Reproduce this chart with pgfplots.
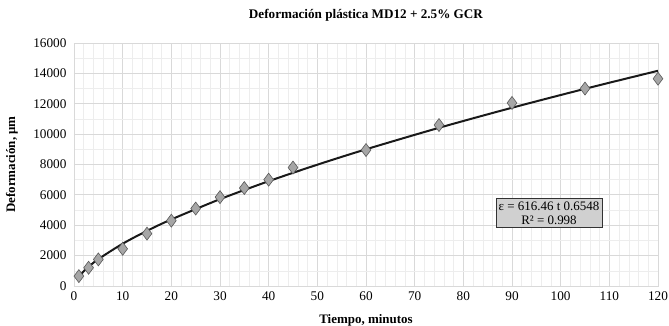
\documentclass[border=0pt]{standalone}
\usepackage{pgfplots}
\pgfplotsset{compat=1.18}
\usepackage{fontspec}
\setmainfont{Liberation Serif}
\definecolor{majgrid}{HTML}{D9D9D9}
\definecolor{mingrid}{HTML}{EDEDED}
\definecolor{mkfill}{HTML}{A6A6A6}
\definecolor{mkedge}{HTML}{595959}
\definecolor{boxfill}{HTML}{D0D0D0}
\begin{document}
\begin{tikzpicture}[x=1bp,y=1bp]
\useasboundingbox (-74bp,-40bp) rectangle (595bp,286bp);
\begin{axis}[
  at={(0,0)}, anchor=south west,
  scale only axis,
  width=584bp, height=243bp,
  xmin=0, xmax=120, ymin=0, ymax=16000,
  xtick={0,10,...,120}, ytick={0,2000,...,16000},
  minor x tick num=4, minor y tick num=1,
  grid=both,
  major grid style={majgrid, line width=0.8pt},
  minor grid style={mingrid, line width=0.6pt},
  axis line style={majgrid},
  tick style={draw=none},
  /pgf/number format/assume math mode=true,
  /pgf/number format/1000 sep={},
  scaled y ticks=false,
  ticklabel style={font=\fontsize{13.3}{15}\selectfont},
  yticklabel style={anchor=east, xshift=-4bp},
  xticklabel style={anchor=center, yshift=-10bp},
  title={\textbf{Deformación plástica MD12 + 2.5\% GCR}},
  title style={font=\fontsize{13.2}{15}\selectfont, at={(axis description cs:0.5,1.088)}, anchor=center},
  xlabel={\textbf{Tiempo, minutos}},
  ylabel={\textbf{Deformación, μm}},
  xlabel style={font=\fontsize{13}{15}\selectfont, at={(axis description cs:0.5,-0.1399)}, anchor=center},
  ylabel style={font=\fontsize{13}{15}\selectfont, at={(axis description cs:-0.1062,0.5)}, anchor=center},
  clip=false,
]
\addplot[only marks, mark=diamond*, mark size=6.5bp, mark options={fill=mkfill, draw=mkedge, line width=0.6pt}]
coordinates {(1,650) (3,1200) (5,1750) (10,2450) (15,3450) (20,4300) (25,5100) (30,5850) (35,6450) (40,7000) (45,7800) (60,8950) (75,10600) (90,12050) (105,13000) (120,13650)};
\addplot[black!90, line width=2pt, smooth]
coordinates {(1,616) (2,970) (3,1266) (5,1768) (10,2784) (15,3631) (20,4383) (30,5717) (40,6901) (50,7987) (60,9000) (75,10416) (90,11737) (105,12984) (120,14171)};
\node[draw=black!80, fill=boxfill, align=center, inner sep=3bp, font=\fontsize{13}{14}\selectfont] at (axis cs:97.6,4807) {ε = 616.46 t 0.6548\\R² = 0.998};
\end{axis}
\end{tikzpicture}
\end{document}
